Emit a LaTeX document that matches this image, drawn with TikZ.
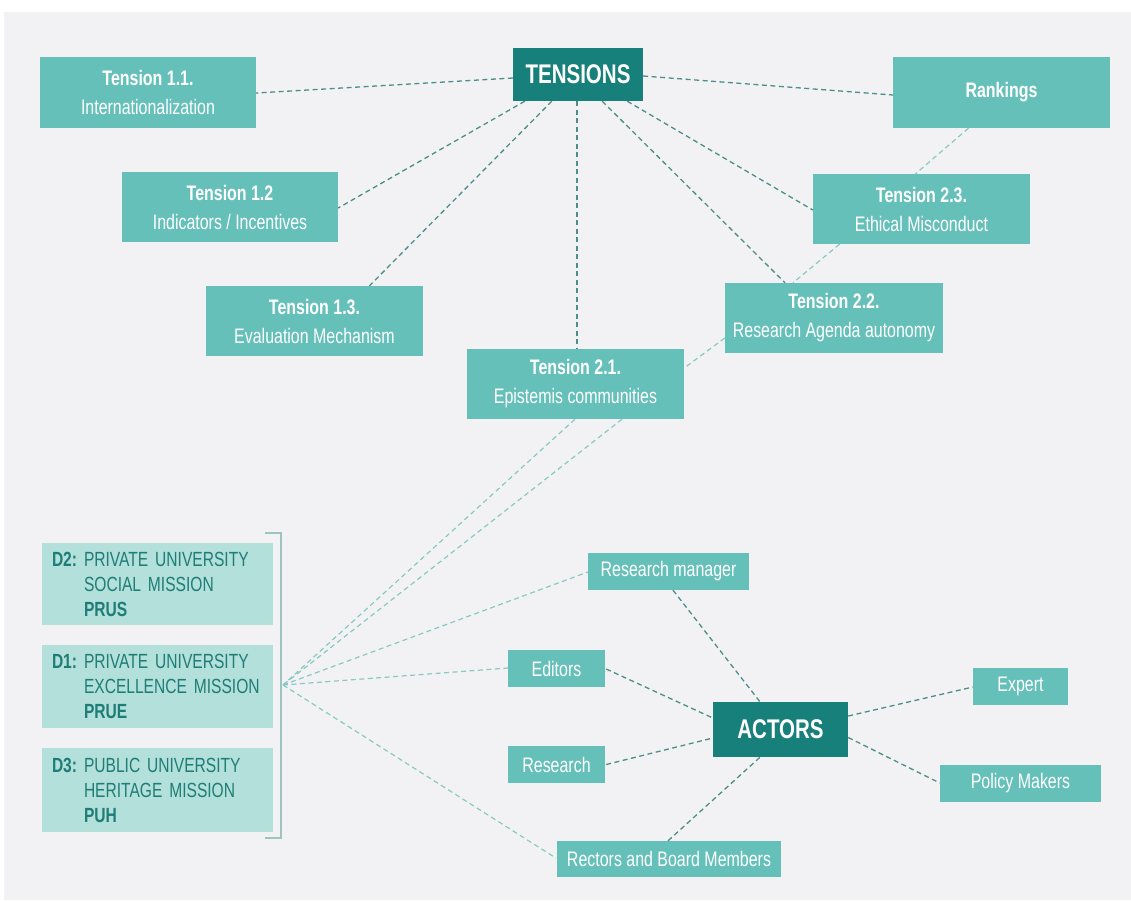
\documentclass[tikz,border=0pt]{standalone}
\usepackage{fontspec}
\setmainfont{Liberation Sans}[FakeStretch=0.76]
\usetikzlibrary{calc}

\definecolor{panel}{HTML}{F2F2F4}
\definecolor{tealbox}{HTML}{66C0BA}
\definecolor{tealdark}{HTML}{17807A}
\definecolor{tealpale}{HTML}{B3E0DA}
\definecolor{tealtext}{HTML}{1F7D77}
\definecolor{linkdark}{HTML}{4C8E8A}
\definecolor{linklight}{HTML}{88C9C3}
\definecolor{bracketcol}{HTML}{9CC4C0}

\begin{document}
\begin{tikzpicture}[x=1pt,y=-1pt,
  box/.style={fill=tealbox, text=white, inner sep=0pt, align=center,
    font=\fontsize{21}{29}\selectfont},
  tbox/.style={box, minimum width=217pt, minimum height=70pt},
  abox/.style={box, minimum height=37pt},
  hubbox/.style={fill=tealdark, text=white, inner sep=0pt,
    font=\fontsize{27}{30}\selectfont\bfseries},
  dbox/.style={fill=tealpale, text=tealtext, inner xsep=10pt, inner ysep=0pt,
    text width=211pt, align=left, minimum height=83pt,
    font=\fontsize{20.5}{25}\selectfont},
  link/.style={draw=linkdark, line width=1.3pt, dash pattern=on 5pt off 3.5pt},
  faint/.style={draw=linklight, line width=1.2pt, dash pattern=on 5pt off 3.5pt}]

% canvas
\useasboundingbox (0,0) rectangle (1131,900);
\fill[white] (0,0) rectangle (1131,900);
\fill[panel] (4,12) rectangle (1131,900);

% ---------- tensions ----------
\node[hubbox, minimum width=130pt, minimum height=53pt] (ten) at (578,74.5) {TENSIONS};
\node[tbox, minimum width=216pt, minimum height=71pt] (t11) at (148,92.5)
  {\textbf{Tension 1.1.}\\Internationalization};
\node[tbox, minimum height=71pt] (rank) at (1001.5,92.5) {\textbf{Rankings}};
\node[tbox, minimum width=216pt] (t12) at (230,207)
  {\textbf{Tension 1.2}\\Indicators / Incentives};
\node[tbox] (t23) at (921.5,209)
  {\textbf{Tension 2.3.}\\Ethical Misconduct};
\node[tbox] (t13) at (314.5,321)
  {\textbf{Tension 1.3.}\\Evaluation Mechanism};
\node[tbox, minimum width=218pt] (t22) at (834,318)
  {\textbf{Tension 2.2.}\\Research Agenda autonomy};
\node[tbox] (t21) at (575.5,384)
  {\textbf{Tension 2.1.}\\Epistemis communities};

% ---------- dimensions ----------
\node[dbox, minimum height=82pt] (d2) at (157.5,584)
  {\makebox[32pt][l]{\textbf{D2:}}PRIVATE UNIVERSITY\\\hspace*{32pt}SOCIAL MISSION\\\hspace*{32pt}\textbf{PRUS}};
\node[dbox] (d1) at (157.5,686.5)
  {\makebox[32pt][l]{\textbf{D1:}}PRIVATE UNIVERSITY\\\hspace*{32pt}EXCELLENCE MISSION\\\hspace*{32pt}\textbf{PRUE}};
\node[dbox, minimum height=84pt] (d3) at (157.5,790)
  {\makebox[32pt][l]{\textbf{D3:}}PUBLIC UNIVERSITY\\\hspace*{32pt}HERITAGE MISSION\\\hspace*{32pt}\textbf{PUH}};

% bracket grouping the three dimensions, with its joining point
\draw[bracketcol, line width=1.2pt] (265,533) -- (281,533) -- (281,838) -- (265,838);
\coordinate (hub) at (283,685);

% ---------- actors ----------
\node[hubbox, minimum width=135pt, minimum height=55pt] (act) at (780.5,729.5) {ACTORS};
\node[abox, minimum width=161pt] (rm) at (668.5,571.5) {Research manager};
\node[abox, minimum width=97pt] (ed) at (556.5,668.5) {Editors};
\node[abox, minimum width=97pt] (res) at (556.5,764.5) {Research};
\node[abox, minimum width=95pt] (exp) at (1020.5,686.5) {Expert};
\node[abox, minimum width=161pt] (pol) at (1020.5,783.5) {Policy Makers};
\node[abox, minimum width=224pt, minimum height=36pt] (rec) at (669,859) {Rectors and Board Members};

% ---------- connectors ----------
% tensions hub
\draw[link] ($(ten.west)+(0,3.5)$) -- ($(t11.east)+(0,0.5)$);
\draw[link] ($(ten.east)+(0,1.5)$) -- ($(rank.west)+(0,2.5)$);
\draw[link] ($(ten.south west)+(12,0)$) -- ($(t12.east)+(0,1)$);
\draw[link] ($(ten.south west)+(39,0)$) -- ($(t13.north)+(55,0)$);
\draw[link] ($(ten.south)+(-1,0)$) -- ($(t21.north)+(1.5,0)$);
\draw[link] ($(ten.south east)+(-41,0)$) -- ($(t22.north)+(-49,0)$);
\draw[link] ($(ten.south east)+(-16,0)$) -- ($(t23.west)+(0,1)$);

% faint chain from rankings down to the dimensions
\draw[faint] ($(rank.south)+(-33,0)$) -- ($(t23.north)+(-6,0)$);
\draw[faint] ($(t23.south)+(-82,0)$) -- ($(t22.north)+(-41,0)$);
\draw[faint] ($(t22.west)+(0,20)$) -- ($(t21.east)+(0,-16)$);
\draw[faint] ($(t21.south)+(-0.5,0)$) -- (hub);
\draw[faint] ($(t21.south)+(46.5,0)$) -- (hub);
\draw[faint] (hub) -- ($(rm.west)+(0,0.5)$);
\draw[faint] (hub) -- ($(ed.west)+(0,-0.5)$);
\draw[faint] (hub) -- ($(rec.west)+(-1,-1)$);

% actors hub
\draw[link] ($(rm.south)+(4.5,0)$) -- ($(act.north)+(-20.5,0)$);
\draw[link] ($(ed.east)+(1,0.5)$) -- ($(act.west)+(0,-11.5)$);
\draw[link] ($(res.east)+(1,0)$) -- ($(act.west)+(0,8.5)$);
\draw[link] ($(rec.north)+(-1,0)$) -- ($(act.south)+(-20.5,0)$);
\draw[link] ($(act.east)+(0,-13.5)$) -- ($(exp.west)+(0,0.5)$);
\draw[link] ($(act.east)+(0,8)$) -- ($(pol.west)+(0,-0.5)$);
\end{tikzpicture}
\end{document}
